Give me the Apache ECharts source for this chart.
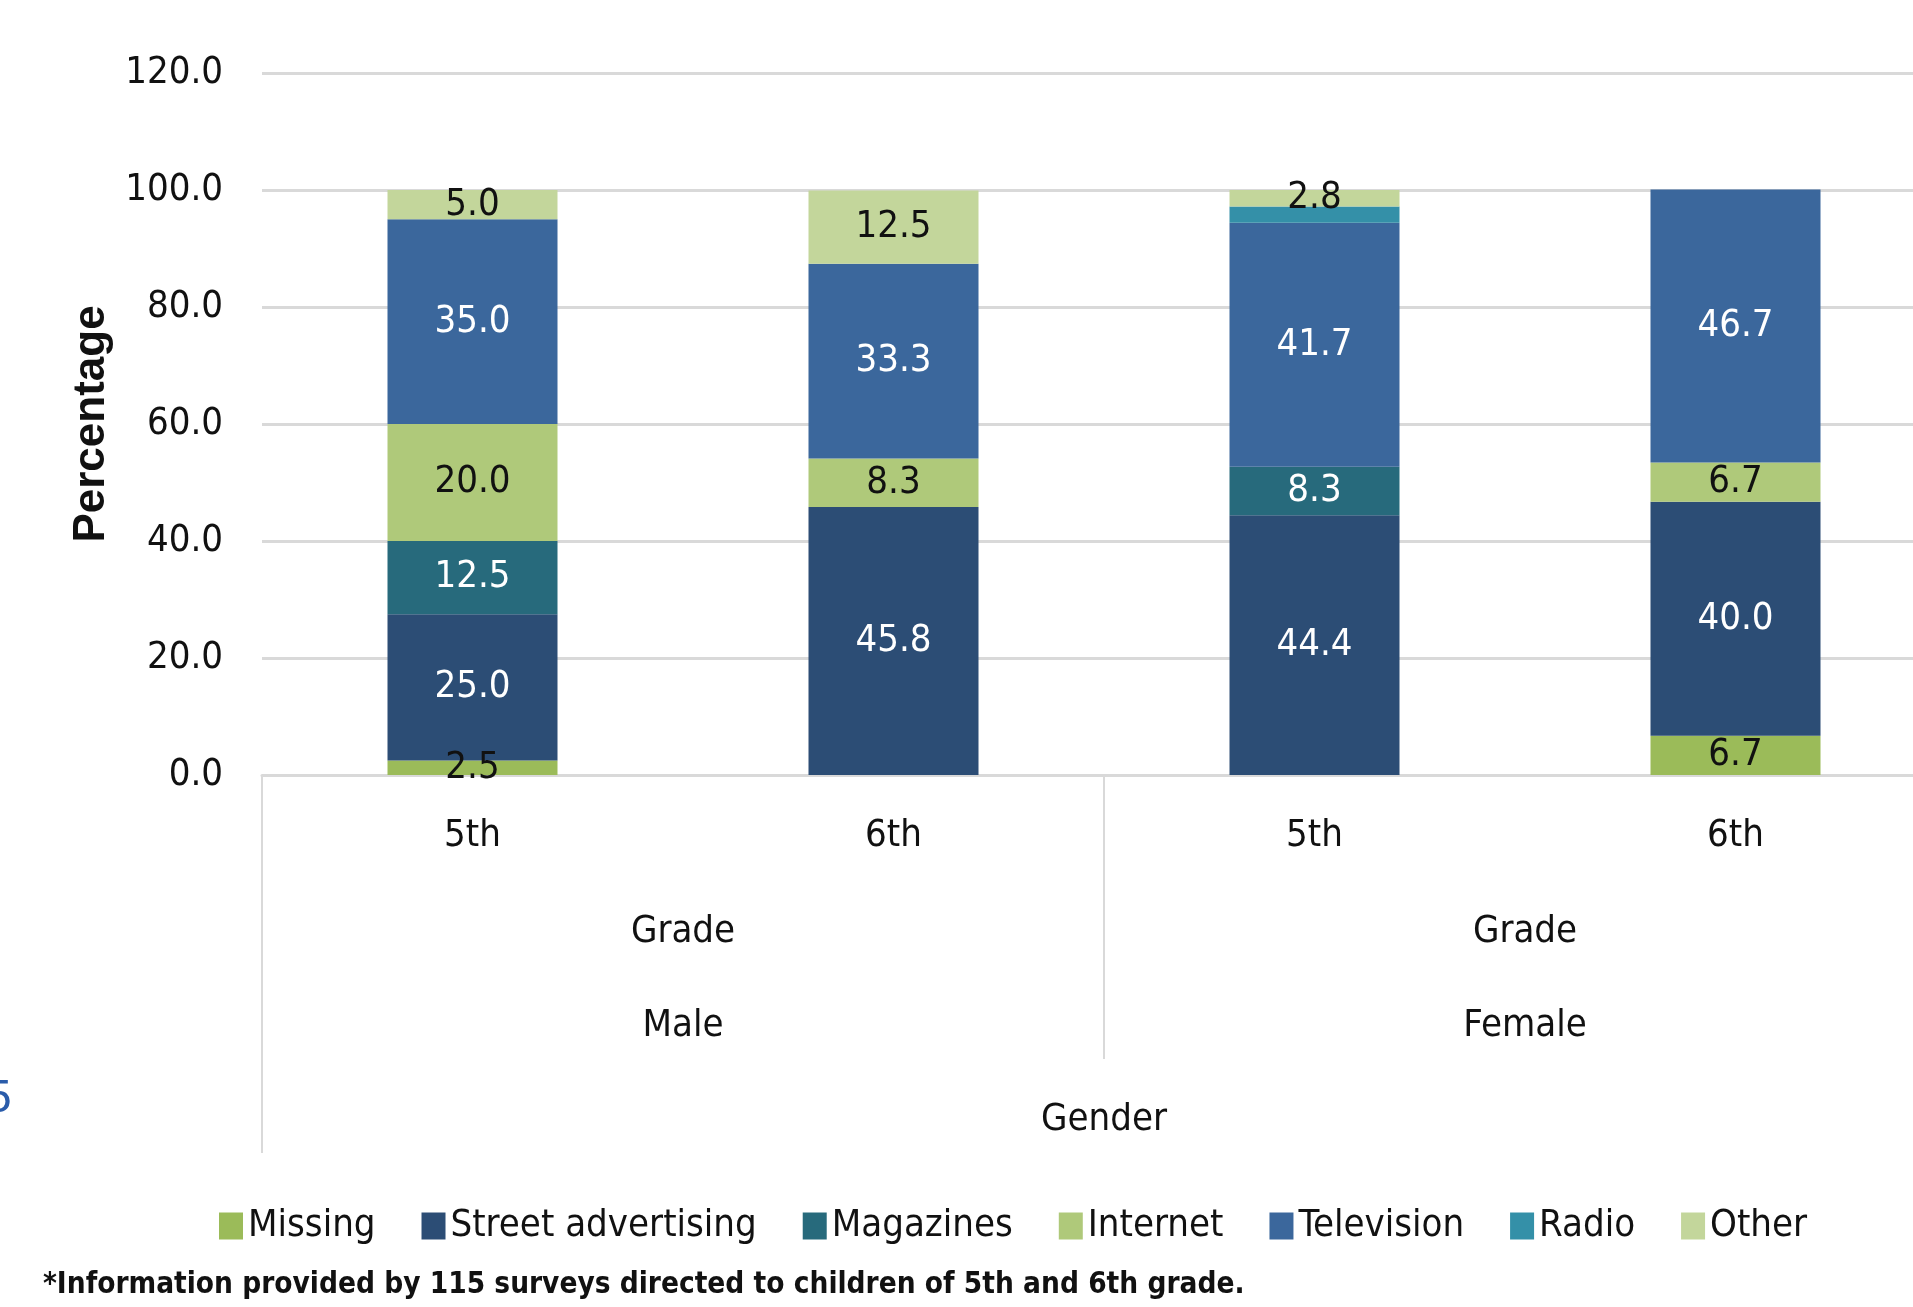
<!DOCTYPE html>
<html>
<head>
<meta charset="utf-8">
<script src="https://cdn.jsdelivr.net/npm/echarts@6/dist/echarts.min.js"></script>
<style>html,body{margin:0;padding:0;background:#fff;overflow:hidden}#c{width:1913px;height:1307px}</style>
</head>
<body>
<div id="c"></div>
<script>
const categories = ['5th', '6th', '5th', '6th'];
const gradeLabels = ['Grade', 'Grade'];
const genderLabels = ['Male', 'Female'];
const outerLabel = ['Gender'];
const seriesNames = ['Missing', 'Street advertising', 'Magazines', 'Internet', 'Television', 'Radio', 'Other'];
const missing = [2.5, 0, 0, 6.7];
const street = [25.0, 45.8, 44.4, 40.0];
const magazines = [12.5, 0, 8.3, 0];
const internet = [20.0, 8.3, 0, 6.7];
const television = [35.0, 33.3, 41.7, 46.7];
const radio = [0, 0, 2.8, 0];
const other = [5.0, 12.5, 2.8, 0];
const hiddenLabels = [[5, 2]]; // Radio label for Female 5th hidden (overlaps Other)
const footnote = '*Information provided by 115 surveys directed to children of 5th and 6th grade.';

const values = [missing, street, magazines, internet, television, radio, other];
const colors = ['#9BBB59', '#2C4D75', '#276A7C', '#AFC97A', '#3B679C', '#3490A8', '#C3D69B'];
const labelColors = ['#111', '#fff', '#fff', '#111', '#fff', '#fff', '#111'];
const FONT = "'Liberation Sans Narrow', 'Arial Narrow', 'DejaVu Sans Condensed', sans-serif";
const GRID = '#D9D9D9';

const chart = echarts.init(document.getElementById('c'));

const series = values.map((arr, si) => ({
  name: seriesNames[si],
  type: 'bar',
  stack: 'total',
  barWidth: 170,
  xAxisIndex: 0,
  itemStyle: { color: colors[si] },
  label: {
    show: true,
    position: 'inside',
    color: labelColors[si],
    fontFamily: FONT,
    fontSize: 38,
    formatter: p => Number(p.value).toFixed(1)
  },
  data: arr.map((v, ci) => {
    if (!v) return null;
    const hide = hiddenLabels.some(h => h[0] === si && h[1] === ci);
    return hide ? { value: v, label: { show: false } } : v;
  })
}));

const baseX = {
  type: 'category',
  position: 'bottom',
  axisLine: { show: false },
  axisTick: { show: false },
  splitLine: { show: false }
};

chart.setOption({
  animation: false,
  textStyle: { fontFamily: FONT },
  grid: { left: 262, width: 1684, top: 73, bottom: 532, containLabel: false, outerBoundsMode: 'none' },
  legend: {
    left: 214,
    top: 1202,
    icon: 'rect',
    itemWidth: 24,
    itemHeight: 27,
    itemGap: 46,
    textStyle: { fontFamily: FONT, fontSize: 38, color: '#111' },
    data: seriesNames
  },
  xAxis: [
    Object.assign({}, baseX, {
      data: categories,
      axisLine: { show: true, lineStyle: { color: GRID, width: 3 } },
      axisLabel: { margin: 42, fontSize: 38, color: '#111', fontFamily: FONT }
    }),
    Object.assign({}, baseX, {
      data: gradeLabels,
      offset: 96,
      axisLabel: { margin: 42, fontSize: 38, color: '#111', fontFamily: FONT }
    }),
    Object.assign({}, baseX, {
      data: genderLabels,
      offset: 284,
      axisTick: { show: true, inside: true, length: 284, lineStyle: { color: GRID, width: 2 } },
      axisLabel: { inside: true, margin: 14, fontSize: 38, color: '#111', fontFamily: FONT }
    }),
    Object.assign({}, baseX, {
      data: outerLabel,
      offset: 378,
      axisTick: { show: true, inside: true, length: 378, lineStyle: { color: GRID, width: 2 } },
      axisLabel: { inside: true, margin: 14, fontSize: 38, color: '#111', fontFamily: FONT }
    })
  ],
  yAxis: {
    type: 'value',
    min: 0,
    max: 120,
    interval: 20,
    name: 'Percentage',
    nameLocation: 'middle',
    nameGap: 143,
    nameTextStyle: { fontFamily: "'Liberation Sans', Arial, sans-serif", fontWeight: 'bold', fontSize: 44, color: '#111' },
    axisLine: { show: false },
    axisTick: { show: false },
    axisLabel: { margin: 39, fontSize: 38, color: '#111', fontFamily: FONT, formatter: v => v.toFixed(1) },
    splitLine: { lineStyle: { color: GRID, width: 3 } }
  },
  graphic: [
    {
      type: 'text',
      left: 43,
      top: 1270,
      style: { text: footnote, fontFamily: FONT, fontWeight: 'bold', fontSize: 29.5, fill: '#111' }
    },
    {
      type: 'text',
      left: -14,
      top: 1076,
      style: { text: '5', fontFamily: "'Liberation Sans', sans-serif", fontSize: 46, fill: '#2A5CAA' }
    }
  ],
  series: series
});
</script>
</body>
</html>
